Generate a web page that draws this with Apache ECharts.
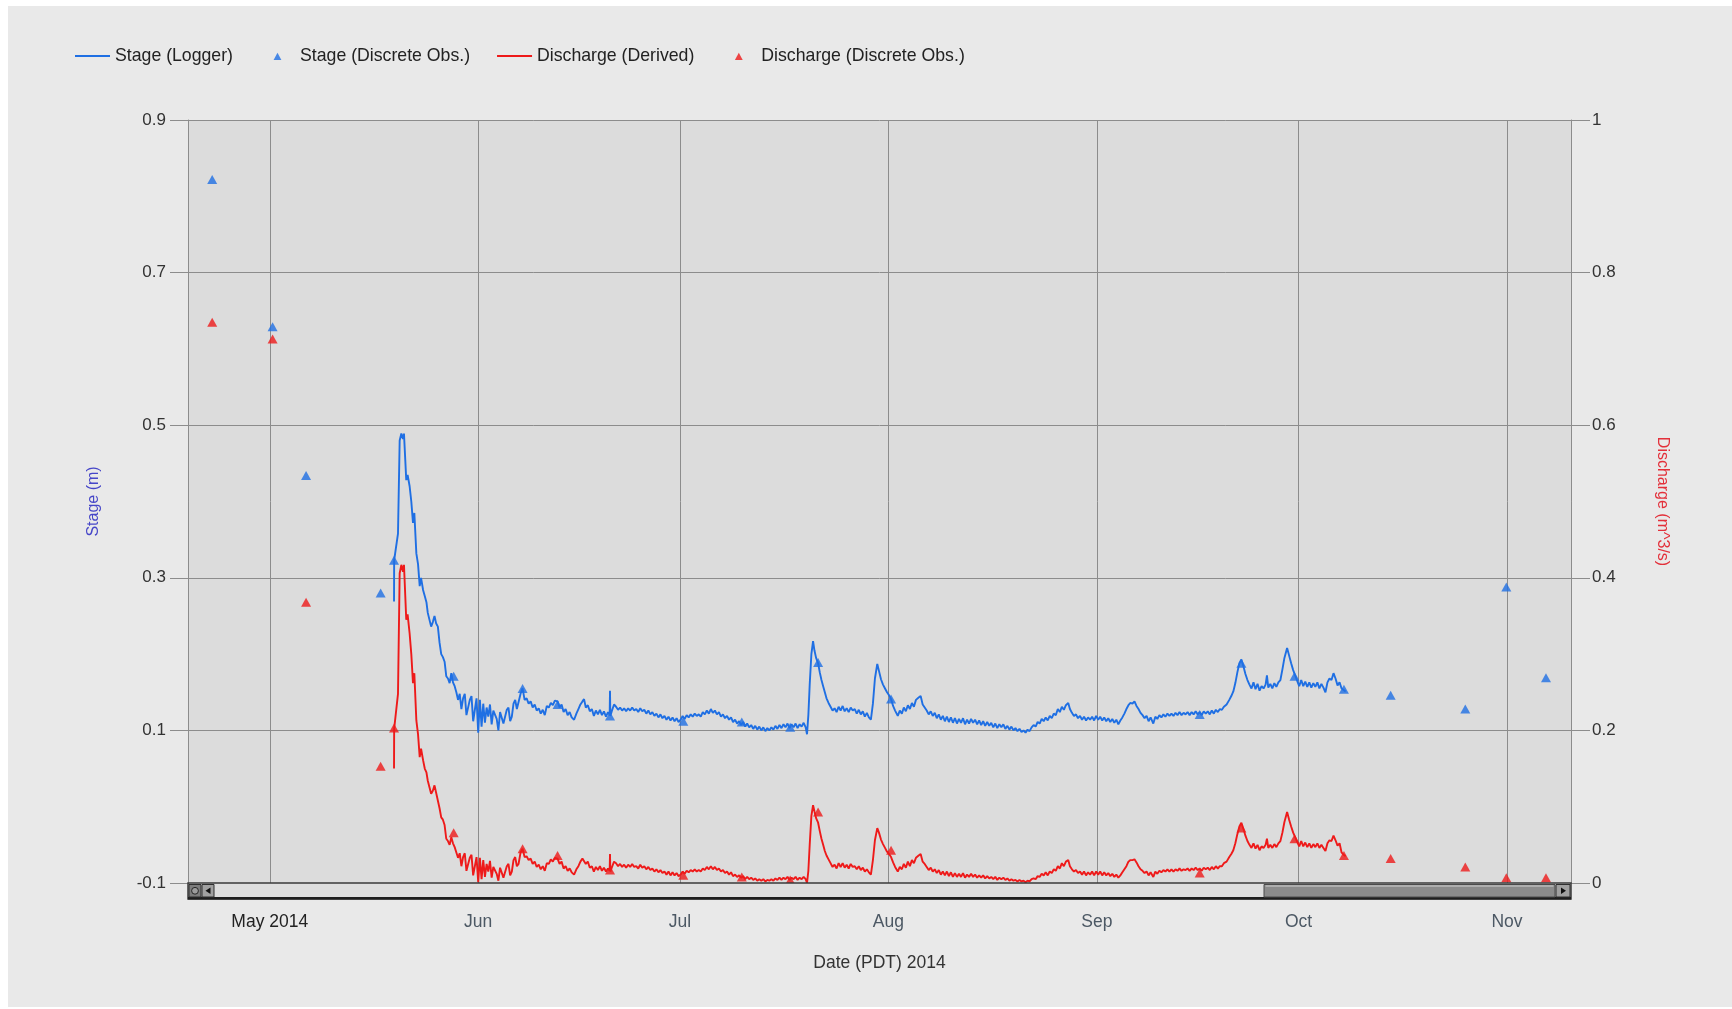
<!DOCTYPE html>
<html>
<head>
<meta charset="utf-8">
<title>Stage and Discharge 2014</title>
<script src="https://cdn.jsdelivr.net/npm/echarts@6/dist/echarts.min.js"></script>
<style>
  html, body { margin: 0; padding: 0; background: #ffffff; }
  #chart { width: 1732px; height: 1009px; }
</style>
</head>
<body>
<div id="chart"></div>
<script>
// Day offsets below count from 1 May 2014 00:00 (PDT shown as UTC on the axis)
const DAY = 86400000;
const EPOCH = Date.UTC(2014, 4, 1);

// Continuous logger record
const loggerDays = [
  18.48,18.50,19.07,19.32,19.57,19.81,19.96,20.30,20.50,20.80,
  21.05,21.30,21.50,21.80,22.05,22.30,22.50,22.80,23.05,23.30,
  23.50,24.00,24.25,24.50,24.75,25.00,25.25,25.50,25.75,26.00,
  26.25,26.50,26.75,27.00,27.25,27.50,27.75,28.00,28.25,28.50,
  28.75,29.00,29.25,29.50,29.75,30.00,30.25,30.50,30.75,31.00,
  31.25,31.50,31.75,32.00,32.25,32.50,32.75,33.00,33.25,33.50,
  33.75,34.00,34.25,34.50,34.75,35.00,35.25,35.50,35.75,36.00,
  36.25,36.50,36.75,37.00,37.30,37.60,37.90,38.20,38.50,38.80,
  39.10,39.40,39.70,40.00,40.30,40.60,40.90,41.20,41.50,41.80,
  42.10,42.40,42.80,43.10,43.40,43.70,44.00,44.30,44.60,44.90,
  45.26,45.60,45.90,46.20,46.50,46.74,47.00,47.30,47.60,47.90,
  48.20,48.50,48.80,49.10,49.40,49.70,50.00,50.30,50.55,50.60,
  50.65,50.90,51.20,51.50,51.80,52.10,52.40,52.70,53.00,53.30,
  53.60,53.90,54.20,54.50,54.80,55.10,55.40,55.70,56.00,56.30,
  56.60,56.90,57.20,57.50,57.80,58.10,58.40,58.70,59.00,59.30,
  59.60,59.90,60.20,60.50,60.80,61.10,61.40,61.70,62.00,62.30,
  62.60,62.90,63.20,63.50,63.80,64.10,64.40,64.70,65.00,65.30,
  65.60,65.90,66.20,66.50,66.80,67.10,67.40,67.70,68.00,68.30,
  68.60,68.90,69.20,69.50,69.80,70.10,70.40,70.70,71.00,71.30,
  71.60,71.90,72.20,72.50,72.80,73.10,73.40,73.70,74.00,74.30,
  74.60,74.90,75.20,75.50,75.80,76.10,76.40,76.70,77.00,77.30,
  77.60,77.90,78.20,78.50,78.80,79.10,79.40,79.70,79.90,80.10,
  80.30,80.55,80.80,81.00,81.25,81.55,81.80,82.05,82.30,82.55,
  82.80,83.10,83.40,83.70,84.00,84.30,84.60,84.90,85.20,85.50,
  85.80,86.10,86.40,86.70,87.00,87.30,87.60,87.90,88.20,88.50,
  88.80,89.10,89.40,89.70,90.00,90.35,90.60,90.90,91.20,91.50,
  91.80,92.10,92.40,92.70,93.00,93.40,93.70,94.00,94.30,94.60,
  94.90,95.20,95.50,95.80,96.10,96.50,96.80,97.10,97.40,97.70,
  98.00,98.30,98.60,98.90,99.20,99.50,99.80,100.10,100.40,100.70,
  101.00,101.30,101.60,101.90,102.20,102.50,102.80,103.10,103.40,103.70,
  104.00,104.30,104.60,104.90,105.20,105.50,105.80,106.10,106.40,106.70,
  107.00,107.30,107.60,107.90,108.20,108.50,108.80,109.10,109.40,109.70,
  110.00,110.30,110.60,110.90,111.20,111.50,111.80,112.10,112.40,112.70,
  113.00,113.30,113.60,113.90,114.20,114.50,114.80,115.10,115.40,115.70,
  116.00,116.30,116.60,116.90,117.20,117.50,117.80,118.10,118.40,118.75,
  119.00,119.30,119.60,119.90,120.20,120.50,120.80,121.10,121.40,121.70,
  122.00,122.30,122.60,122.90,123.20,123.50,123.80,124.10,124.40,124.70,
  125.00,125.30,125.60,125.90,126.20,126.50,126.80,127.10,127.40,127.70,
  128.00,128.30,128.60,128.90,129.20,129.50,129.80,130.10,130.40,130.70,
  131.00,131.40,131.70,132.00,132.30,132.60,132.90,133.20,133.50,133.80,
  134.10,134.40,134.70,135.00,135.30,135.60,135.90,136.20,136.50,136.80,
  137.10,137.40,137.70,138.00,138.30,138.60,138.90,139.20,139.50,139.80,
  140.10,140.40,140.70,141.00,141.30,141.60,141.90,142.30,142.70,143.00,
  143.30,143.60,143.90,144.20,144.50,144.80,145.10,145.40,145.70,146.00,
  146.30,146.60,146.90,147.20,147.50,147.80,148.10,148.30,148.50,148.80,
  149.10,149.40,149.70,150.00,150.30,150.60,150.90,151.30,151.60,151.90,
  152.20,152.50,152.80,153.10,153.40,153.70,154.00,154.30,154.60,154.90,
  155.20,155.50,155.80,156.10,156.40,156.70,157.00,157.30,157.60,157.90,
  158.20,158.50,158.80,159.10,159.40,159.70,160.00
];

// Stage (m) from the logger
const stageLogger = [
  .269,.323,.358,.480,.489,.482,.489,.428,.435,.420,
  .400,.372,.385,.332,.318,.289,.300,.284,.276,.268,
  .254,.236,.242,.250,.240,.236,.215,.200,.196,.190,
  .171,.168,.162,.175,.163,.158,.150,.140,.148,.128,
  .142,.148,.120,.118,.140,.145,.112,.110,.142,.097,
  .140,.105,.135,.110,.130,.118,.134,.108,.126,.128,
  .115,.100,.124,.125,.109,.108,.127,.130,.112,.118,
  .135,.140,.128,.130,.148,.155,.140,.142,.135,.138,
  .130,.134,.126,.129,.122,.127,.120,.132,.130,.136,
  .133,.139,.138,.130,.134,.124,.128,.120,.124,.117,
  .114,.122,.128,.134,.138,.141,.130,.133,.125,.128,
  .119,.126,.121,.127,.120,.125,.118,.124,.120,.152,
  .119,.126,.134,.131,.127,.130,.126,.129,.125,.129,
  .126,.130,.126,.128,.124,.129,.125,.127,.122,.126,
  .121,.124,.119,.122,.117,.121,.116,.119,.114,.118,
  .113,.117,.112,.116,.111,.114,.119,.115,.120,.117,
  .121,.118,.122,.119,.121,.118,.124,.121,.126,.122,
  .128,.123,.126,.121,.124,.118,.121,.116,.119,.114,
  .117,.111,.114,.109,.112,.107,.111,.105,.109,.104,
  .107,.102,.106,.101,.105,.100,.104,.099,.103,.100,
  .104,.101,.106,.102,.107,.103,.108,.104,.109,.103,
  .108,.104,.109,.103,.108,.105,.110,.104,.095,.120,
  .160,.200,.217,.205,.195,.188,.176,.166,.158,.150,
  .142,.136,.131,.126,.129,.124,.131,.126,.132,.125,
  .129,.124,.130,.126,.128,.122,.127,.121,.125,.118,
  .123,.117,.114,.135,.168,.187,.178,.167,.160,.155,
  .150,.146,.141,.132,.126,.119,.126,.122,.130,.125,
  .133,.128,.136,.131,.140,.143,.145,.134,.130,.126,
  .121,.125,.119,.123,.116,.121,.114,.119,.112,.118,
  .111,.117,.110,.116,.109,.115,.110,.116,.108,.114,
  .109,.115,.110,.114,.108,.113,.107,.112,.106,.111,
  .106,.110,.104,.109,.103,.108,.104,.108,.102,.106,
  .101,.105,.100,.103,.099,.102,.098,.100,.097,.101,
  .099,.104,.107,.105,.111,.109,.115,.112,.117,.113,
  .119,.116,.122,.120,.128,.124,.131,.127,.133,.136,
  .128,.123,.119,.121,.116,.119,.114,.118,.113,.117,
  .114,.118,.113,.119,.114,.118,.113,.117,.112,.116,
  .111,.115,.110,.114,.108,.113,.117,.122,.128,.133,
  .136,.135,.138,.132,.128,.123,.120,.116,.119,.112,
  .117,.109,.118,.115,.120,.117,.121,.118,.122,.119,
  .122,.119,.123,.120,.124,.120,.123,.121,.124,.120,
  .124,.121,.125,.121,.124,.120,.125,.122,.125,.121,
  .126,.122,.127,.124,.128,.127,.131,.134,.140,.145,
  .151,.162,.176,.188,.193,.184,.174,.166,.160,.155,
  .163,.154,.161,.152,.158,.155,.160,.172,.156,.161,
  .155,.162,.157,.163,.166,.180,.195,.208,.198,.188,
  .179,.172,.165,.158,.166,.158,.164,.157,.163,.156,
  .162,.157,.163,.155,.161,.156,.150,.163,.168,.166,
  .175,.168,.159,.163,.155,.153,.151
];

// Discharge (m^3/s) derived from the logger stage
const dischargeLogger = [
  .150,.202,.248,.406,.417,.408,.417,.345,.352,.327,
  .300,.262,.275,.213,.195,.165,.176,.161,.150,.145,
  .134,.117,.121,.128,.118,.117,.098,.086,.083,.076,
  .058,.055,.050,.060,.052,.047,.040,.033,.039,.022,
  .034,.039,.016,.015,.033,.037,.010,.008,.034,.001,
  .033,.005,.030,.008,.025,.015,.029,.007,.021,.022,
  .012,.003,.020,.020,.007,.007,.022,.025,.010,.015,
  .030,.034,.022,.025,.040,.045,.034,.035,.030,.032,
  .025,.028,.021,.024,.018,.022,.016,.026,.025,.031,
  .028,.033,.032,.025,.028,.019,.022,.016,.019,.014,
  .011,.018,.022,.028,.032,.034,.025,.028,.020,.022,
  .015,.021,.017,.022,.016,.020,.015,.019,.016,.038,
  .015,.021,.028,.026,.022,.025,.021,.024,.020,.024,
  .021,.025,.021,.022,.019,.024,.020,.022,.018,.021,
  .017,.019,.015,.018,.014,.017,.013,.015,.011,.015,
  .010,.014,.010,.013,.009,.011,.015,.012,.016,.014,
  .017,.015,.018,.015,.017,.015,.019,.017,.021,.018,
  .022,.018,.021,.017,.019,.015,.017,.013,.015,.011,
  .014,.009,.011,.008,.010,.007,.009,.005,.008,.005,
  .007,.004,.006,.003,.005,.003,.005,.002,.004,.003,
  .005,.003,.006,.004,.007,.004,.007,.005,.008,.004,
  .007,.005,.008,.004,.007,.005,.008,.005,.000,.016,
  .050,.088,.102,.094,.085,.079,.068,.058,.050,.042,
  .036,.031,.026,.021,.024,.019,.026,.021,.026,.020,
  .024,.019,.025,.021,.022,.018,.022,.017,.020,.015,
  .018,.014,.011,.030,.056,.072,.066,.057,.051,.046,
  .041,.038,.034,.027,.021,.015,.021,.018,.025,.020,
  .028,.022,.030,.026,.033,.036,.038,.028,.025,.021,
  .017,.020,.015,.018,.013,.017,.011,.015,.010,.015,
  .009,.014,.008,.013,.008,.012,.008,.013,.007,.011,
  .008,.012,.008,.011,.007,.010,.007,.010,.006,.009,
  .006,.008,.005,.008,.004,.007,.005,.007,.004,.006,
  .003,.005,.003,.004,.002,.004,.002,.003,.001,.003,
  .002,.005,.006,.005,.009,.008,.012,.010,.014,.010,
  .015,.013,.018,.016,.022,.019,.026,.022,.028,.030,
  .022,.018,.015,.017,.013,.015,.011,.015,.010,.014,
  .011,.015,.010,.015,.011,.015,.010,.014,.010,.013,
  .009,.012,.008,.011,.007,.010,.014,.018,.022,.028,
  .030,.030,.031,.027,.022,.018,.016,.013,.015,.010,
  .014,.008,.015,.012,.016,.014,.017,.015,.018,.015,
  .018,.015,.018,.016,.019,.016,.018,.017,.019,.016,
  .019,.017,.020,.017,.019,.016,.020,.018,.020,.017,
  .021,.018,.022,.019,.022,.022,.026,.028,.034,.038,
  .043,.052,.064,.074,.079,.071,.062,.055,.050,.046,
  .052,.045,.050,.043,.048,.046,.050,.058,.046,.050,
  .046,.051,.047,.052,.055,.066,.080,.093,.083,.074,
  .066,.060,.054,.048,.055,.048,.053,.047,.052,.046,
  .051,.047,.052,.046,.050,.046,.042,.052,.056,.055,
  .062,.056,.049,.052,.040,.037,.035
];

// Field visits (discrete observations)
const obsDays = [-8.56, 0.42, 5.40, 16.49, 18.48, 27.35, 37.60, 42.80, 50.60, 61.50, 70.20,
  77.40, 81.55, 92.40, 138.30, 144.50, 152.40, 159.75, 166.70, 177.80, 183.90, 189.80];
const stageObs = [0.822, 0.629, 0.434, 0.280, 0.323, 0.171, 0.155, 0.134, 0.119, 0.112, 0.111,
  0.104, 0.189, 0.141, 0.121, 0.188, 0.171, 0.154, 0.146, 0.128, 0.288, 0.169];
const dischargeObs = [0.735, 0.713, 0.368, 0.153, 0.203, 0.066, 0.045, 0.036, 0.017, 0.010, 0.008,
  0.004, 0.093, 0.043, 0.013, 0.072, 0.058, 0.036, 0.032, 0.021, 0.007, 0.007];

const monthLabels = ['Jan', 'Feb', 'Mar', 'Apr', 'May 2014', 'Jun', 'Jul', 'Aug', 'Sep', 'Oct', 'Nov', 'Dec'];
const seriesNames = ['Stage (Logger)', 'Stage (Discrete Obs.)', 'Discharge (Derived)', 'Discharge (Discrete Obs.)'];

const BLUE = '#1f6fe3';
const RED = '#ee1a1a';
const GRID_LINE = '#8c8c8c';
const FONT = '"Liberation Sans", Arial, sans-serif';

// legend glyphs: a thin bar for the logger lines, a small triangle for field visits
const LINE_ICON = 'path://M0,3.6L35,3.6L35,5.6L0,5.6Z';
const TRI_ICON = 'path://M0,0M35,9M13.6,8.6L17.5,1.2L21.4,8.6Z';

const toTime = d => EPOCH + d * DAY;
const pairs = (days, vals) => days.map((d, i) => [toTime(d), vals[i]]);

// plot frame
const G = { left: 188, right: 161, top: 120, bottom: 126 };
const plotX0 = G.left, plotX1 = 1732 - G.right, plotY1 = 1009 - G.bottom;

// navigator scrollbar drawn under the plot
function scrollbar() {
  const y = plotY1, h = 16, w = plotX1 - plotX0;
  const thumbX0 = plotX0 + 1076, thumbX1 = plotX1 - 16;
  return [
    { type: 'rect', z: 20, shape: { x: plotX0, y: y, width: w, height: h },
      style: { fill: '#dedede', stroke: '#3a3a3a', lineWidth: 1.5 } },
    { type: 'rect', z: 21, shape: { x: plotX0, y: y + h - 2, width: w, height: 2.5 },
      style: { fill: '#1e1e1e' } },
    { type: 'rect', z: 22, shape: { x: plotX0 + 1, y: y + 1.5, width: 12, height: 12.5 },
      style: { fill: '#7d7d7d', stroke: '#2f2f2f', lineWidth: 1 } },
    { type: 'circle', z: 23, shape: { cx: plotX0 + 7, cy: y + 7.8, r: 3.4 },
      style: { fill: '#9c9c9c', stroke: '#262626', lineWidth: 1 } },
    { type: 'rect', z: 22, shape: { x: plotX0 + 14, y: y + 1.5, width: 12, height: 12.5 },
      style: { fill: '#a0a0a0', stroke: '#2f2f2f', lineWidth: 1 } },
    { type: 'polygon', z: 23, shape: { points: [[plotX0 + 22.5, y + 4.5], [plotX0 + 22.5, y + 11], [plotX0 + 17.5, y + 7.8]] },
      style: { fill: '#111' } },
    { type: 'rect', z: 22, shape: { x: thumbX0, y: y + 1.5, width: thumbX1 - thumbX0, height: 12.5 },
      style: { fill: '#8b8b8b', stroke: '#4a4a4a', lineWidth: 1 } },
    { type: 'line', z: 23, shape: { x1: thumbX0 + 1.5, y1: y + 3, x2: thumbX1 - 1.5, y2: y + 3 },
      style: { stroke: '#b8b8b8', lineWidth: 1.5 } },
    { type: 'rect', z: 22, shape: { x: thumbX1 + 1, y: y + 1.5, width: 14, height: 12.5 },
      style: { fill: '#a0a0a0', stroke: '#2f2f2f', lineWidth: 1 } },
    { type: 'polygon', z: 23, shape: { points: [[thumbX1 + 6, y + 4.5], [thumbX1 + 6, y + 11], [thumbX1 + 11, y + 7.8]] },
      style: { fill: '#111' } }
  ];
}

const chart = echarts.init(document.getElementById('chart'), null, { renderer: 'canvas' });

chart.setOption({
  animation: false,
  useUTC: true,
  backgroundColor: '#ffffff',
  textStyle: { fontFamily: FONT },
  graphic: [
    { type: 'rect', z: -10, silent: true, shape: { x: 8, y: 6, width: 1724, height: 1001 },
      style: { fill: '#e9e9e9' } }
  ].concat(scrollbar()),
  legend: {
    left: 70, top: 42,
    itemWidth: 35, itemHeight: 9, itemGap: 27,
    textStyle: { fontSize: 17.7, color: '#222', fontFamily: FONT },
    data: [
      { name: seriesNames[0], icon: LINE_ICON },
      { name: seriesNames[1], icon: TRI_ICON },
      { name: seriesNames[2], icon: LINE_ICON },
      { name: seriesNames[3], icon: TRI_ICON }
    ]
  },
  grid: {
    left: G.left, right: G.right, top: G.top, bottom: G.bottom,
    show: true, backgroundColor: '#dcdcdc', borderWidth: 0
  },
  xAxis: {
    type: 'time',
    min: toTime(-12.16), max: toTime(193.52),
    minInterval: 28 * DAY, maxInterval: 35 * DAY,
    offset: 16,
    name: 'Date (PDT) 2014', nameLocation: 'middle', nameGap: 55,
    nameTextStyle: { fontSize: 17.5, color: '#333', fontFamily: FONT },
    axisLine: { show: false },
    axisTick: { show: true, length: 10, lineStyle: { color: GRID_LINE } },
    splitLine: { show: true, lineStyle: { color: GRID_LINE, width: 1 } },
    axisLabel: {
      margin: 14, showMinLabel: false, showMaxLabel: false,
      formatter: function (v) {
        const d = new Date(v);
        if (d.getUTCDate() !== 1 || d.getUTCHours() !== 0) return '';
        const m = d.getUTCMonth();
        return m === 4 ? '{y|' + monthLabels[m] + '}' : '{m|' + monthLabels[m] + '}';
      },
      rich: {
        y: { fontSize: 17.5, color: '#222', fontFamily: FONT },
        m: { fontSize: 17.5, color: '#4c5864', fontFamily: FONT }
      }
    }
  },
  yAxis: [
    {
      type: 'value', position: 'left',
      min: -0.1, max: 0.9, interval: 0.2,
      name: 'Stage (m)', nameLocation: 'middle', nameGap: 86,
      nameTextStyle: { fontSize: 16, color: '#4646c8', fontFamily: FONT },
      axisLine: { show: true, lineStyle: { color: GRID_LINE } },
      axisTick: { show: true, length: 18, lineStyle: { color: GRID_LINE } },
      splitLine: { show: true, lineStyle: { color: GRID_LINE, width: 1 } },
      axisLabel: { margin: 22, fontSize: 17, color: '#333', fontFamily: FONT,
        formatter: v => (Math.round(v * 10) / 10).toFixed(1) }
    },
    {
      type: 'value', position: 'right',
      min: 0, max: 1, interval: 0.2,
      name: 'Discharge (m^3/s)', nameLocation: 'middle', nameGap: 83, nameRotate: -90,
      nameTextStyle: { fontSize: 16, color: '#e3303a', fontFamily: FONT },
      axisLine: { show: true, lineStyle: { color: GRID_LINE } },
      axisTick: { show: true, length: 19, lineStyle: { color: GRID_LINE } },
      splitLine: { show: false },
      axisLabel: { margin: 21, fontSize: 17, color: '#333', fontFamily: FONT,
        formatter: v => String(Math.round(v * 10) / 10) }
    }
  ],
  series: [
    {
      name: seriesNames[0], type: 'line', yAxisIndex: 0,
      data: pairs(loggerDays, stageLogger),
      symbol: 'none', showSymbol: false, z: 3,
      itemStyle: { color: BLUE },
      lineStyle: { color: BLUE, width: 1.9 }
    },
    {
      name: seriesNames[1], type: 'scatter', yAxisIndex: 0,
      data: pairs(obsDays, stageObs),
      symbol: 'triangle', symbolSize: [10, 9], z: 4,
      itemStyle: { color: BLUE }
    },
    {
      name: seriesNames[2], type: 'line', yAxisIndex: 1,
      data: pairs(loggerDays, dischargeLogger),
      symbol: 'none', showSymbol: false, z: 3,
      itemStyle: { color: RED },
      lineStyle: { color: RED, width: 1.9 }
    },
    {
      name: seriesNames[3], type: 'scatter', yAxisIndex: 1,
      data: pairs(obsDays, dischargeObs),
      symbol: 'triangle', symbolSize: [10, 9], z: 4,
      itemStyle: { color: RED }
    }
  ]
});
</script>
</body>
</html>
